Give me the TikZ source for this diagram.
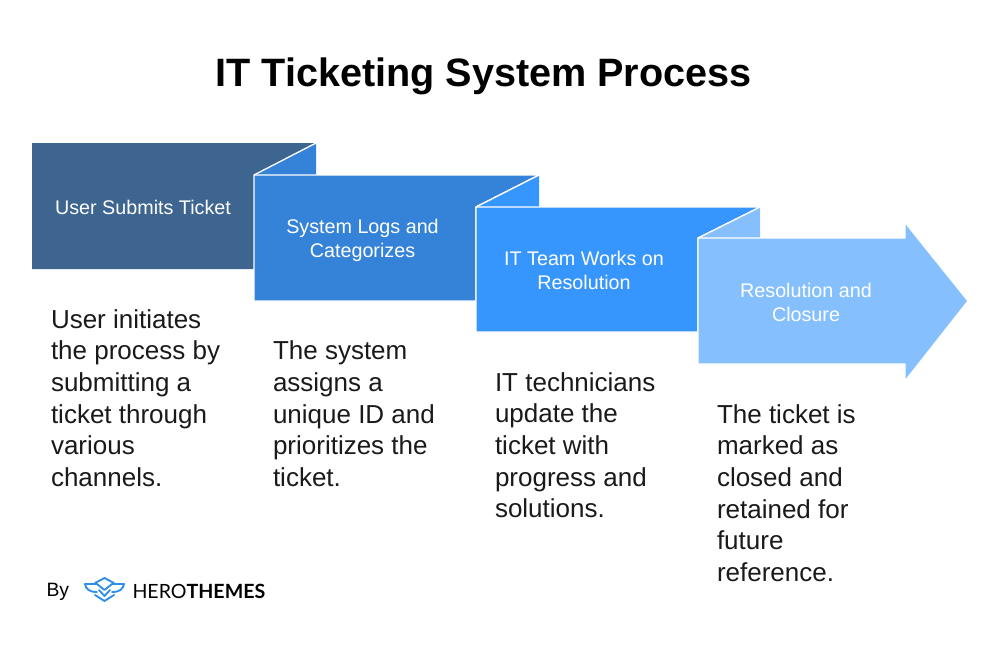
\documentclass[tikz,border=0pt]{standalone}
\usepackage{fontspec}
\setmainfont{Liberation Sans}
\newfontfamily\logofont{Lato}
\definecolor{stepA}{HTML}{3D6590}
\definecolor{stepB}{HTML}{3583D8}
\definecolor{stepC}{HTML}{3796FD}
\definecolor{stepD}{HTML}{85BFFE}
\definecolor{bodyink}{HTML}{1A1A1A}
\definecolor{logoblue}{HTML}{2F8FE8}
\tikzset{
	every picture/.style={line width=0.75pt},
	boxtext/.style={text=white,align=center,font=\fontsize{14.8}{18}\selectfont},
	steptext/.style={text=bodyink,align=left,anchor=north west,inner sep=0pt,font=\fontsize{19.5}{23.7}\selectfont},
	panel/.style={draw=white,line width=1pt,line join=round},
	logoline/.style={draw=logoblue,line width=1.4pt,line join=round,line cap=round}
}

\begin{document}
\begin{tikzpicture}[x=0.75pt,y=0.75pt,yscale=-1,xscale=1]
	\useasboundingbox (0,0) rectangle (1000,650);
	\fill[white] (0,0) rectangle (1000,650);

	% Title
	\node (title) at (483.5,76.5) {\fontsize{29.7}{36}\selectfont\bfseries IT Ticketing System Process};

	% Panels
	\path[fill=stepA] (32,143) -- (316,143) -- (254,175) -- (254,269) -- (32,269) -- cycle ;
	\path[fill=stepB] (316,143) -- (316,175) -- (254,175) -- cycle ;
	\draw[panel,fill=stepB] (254,175) -- (539,175) -- (476,207) -- (476,301) -- (254,301) -- cycle ;
	\draw[white,line width=1pt] (254,175) -- (316,143) ;
	\path[fill=stepC] (539,175) -- (539,207) -- (476,207) -- cycle ;
	\draw[panel,fill=stepC] (476,207) -- (760,207) -- (698,238) -- (698,332) -- (476,332) -- cycle ;
	\draw[white,line width=1pt] (476,207) -- (539,175) ;
	\path[fill=stepD] (760,207) -- (760,238) -- (698,238) -- cycle ;
	\draw[panel,fill=stepD] (698,238) -- (905,238) -- (905,222.5) -- (968,301) -- (905,381) -- (905,364) -- (698,364) -- cycle ;
	\draw[white,line width=1pt] (698,238) -- (760,207) ;

	% Panel labels
	\node[boxtext] (submit) at (143,207) {User Submits Ticket};
	\node[boxtext] (logs) at (362.5,240.5) {System Logs and\\Categorizes};
	\node[boxtext] (works) at (584,270.5) {IT Team Works on\\Resolution};
	\node[boxtext] (closure) at (806,302) {Resolution and\\Closure};

	% Descriptions
	\node[steptext] (descA) at (50.5,309) {User initiates\\the process by\\submitting a\\ticket through\\various\\channels.};
	\node[steptext] (descB) at (272.5,340.5) {The system\\assigns a\\unique ID and\\prioritizes the\\ticket.};
	\node[steptext] (descC) at (494.5,372) {IT technicians\\update the\\ticket with\\progress and\\solutions.};
	\node[steptext] (descD) at (716.5,404) {The ticket is\\marked as\\closed and\\retained for\\future\\reference.};

	% Logo
	\node[anchor=west,inner sep=0pt] (by) at (46,592) {\fontsize{14.5}{18}\selectfont By};
	\draw[logoline] (95,583) -- (104.5,578) -- (114,583) ;
	\draw[logoline] (97,584) -- (85,584) .. controls (86,589) and (89,592) .. (97,592) ;
	\draw[logoline] (112,584) -- (124,584) .. controls (123,589) and (120,592) .. (112,592) ;
	\draw[logoline] (97,584) -- (104.5,590) -- (112,584) ;
	\draw[logoline] (99,590) -- (104.5,596) -- (110,590) ;
	\draw[logoline] (95,595) -- (104.5,601) -- (114,595) ;
	\node[anchor=west,inner sep=0pt] (brand) at (132,591) {\logofont\fontsize{14.7}{20}\selectfont HERO\bfseries THEMES};
\end{tikzpicture}
\end{document}
